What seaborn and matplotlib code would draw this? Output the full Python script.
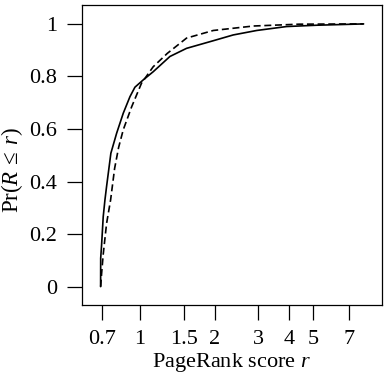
import numpy as np
import pandas as pd
import matplotlib
matplotlib.use("Agg")
import matplotlib.pyplot as plt
import seaborn as sns

# Empirical CDF (solid)
emp_x = [0.6935, 0.694, 0.700, 0.7105, 0.722, 0.733, 0.763, 0.805, 0.856, 0.911, 0.954,
         1.031, 1.131, 1.321, 1.542, 1.977, 2.38, 2.96, 3.91, 5.17, 8.0]
emp_y = [0.0, 0.108, 0.16, 0.266, 0.33, 0.381, 0.508, 0.584, 0.660, 0.723, 0.759,
         0.787, 0.818, 0.876, 0.907, 0.936, 0.958, 0.975, 0.990, 0.995, 1.0]
# Model CDF (dashed)
mod_x = [0.694, 0.700, 0.71, 0.733, 0.761, 0.790, 0.820, 0.856, 0.926, 1.014, 1.131,
         1.29, 1.542, 1.977, 2.87, 4.4, 8.0]
mod_y = [0.0, 0.05, 0.12, 0.24, 0.33, 0.45, 0.53, 0.597, 0.685, 0.774, 0.837,
         0.888, 0.946, 0.975, 0.992, 0.999, 1.0]

xticks = [0.7, 1, 1.5, 2, 3, 4, 5, 7]
xtick_labels = ["0.7", "1", "1.5", "2", "3", "4", "5", "7"]
yticks = [0, 0.2, 0.4, 0.6, 0.8, 1.0]
ytick_labels = ["0", "0.2", "0.4", "0.6", "0.8", "1"]

df = pd.concat([
    pd.DataFrame({"r": emp_x, "p": emp_y, "kind": "empirical"}),
    pd.DataFrame({"r": mod_x, "p": mod_y, "kind": "model"}),
], ignore_index=True)

sns.set_theme(style="white")
plt.rcParams["font.family"] = ["Liberation Serif", "DejaVu Serif"]
plt.rcParams["mathtext.fontset"] = "custom"
plt.rcParams["mathtext.rm"] = "Liberation Serif"
plt.rcParams["mathtext.it"] = "Liberation Serif:italic"

fig = plt.figure(figsize=(3.87, 3.73), dpi=100)
ax = fig.add_axes([0.2127, 0.1823, 0.9858 - 0.2127, 0.9866 - 0.1823])

sns.lineplot(data=df, x="r", y="p", style="kind", color="black",
             dashes={"empirical": "", "model": (4.2, 2.2)}, linewidth=1.2,
             estimator=None, sort=False, legend=False, ax=ax)

ax.set_xscale("log")
ax.set_xlim(0.585, 9.45)
ax.set_ylim(-0.07, 1.072)
ax.set_xticks(xticks)
ax.set_xticklabels(xtick_labels)
ax.xaxis.set_minor_locator(matplotlib.ticker.NullLocator())
ax.set_yticks(yticks)
ax.set_yticklabels(ytick_labels)
ax.tick_params(axis="both", which="major", direction="out", length=10.5, width=0.9,
               color="black", labelsize=16, labelcolor="black", pad=7.5,
               bottom=True, left=True)
for s in ax.spines.values():
    s.set_color("black")
    s.set_linewidth(0.9)
ax.set_xlabel("PageRank score $r$", fontsize=16, color="black", labelpad=1.5)
ax.set_ylabel(r"Pr($R\:\leq\:r$)", fontsize=16.5, color="black")
ax.yaxis.set_label_coords(-0.19, 0.45)

fig.savefig("out.png", dpi=100)
